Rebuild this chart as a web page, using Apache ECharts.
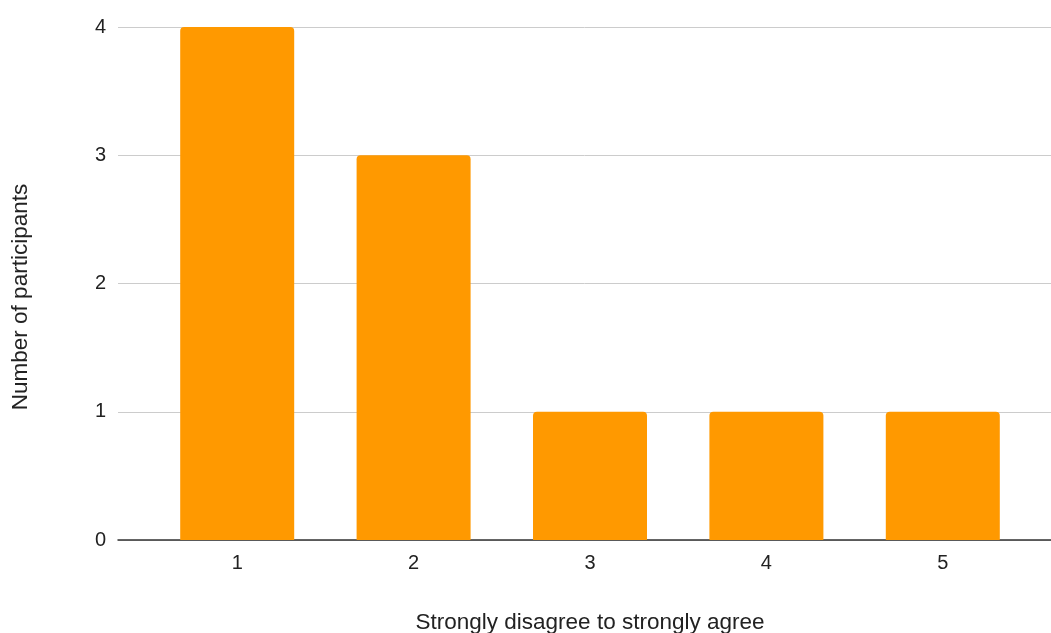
<!DOCTYPE html>
<html>
<head>
<meta charset="utf-8">
<script src="https://cdn.jsdelivr.net/npm/echarts@6/dist/echarts.min.js"></script>
<style>
  html, body { margin: 0; padding: 0; background: #fff; }
  #chart { width: 1051px; height: 633px; }
</style>
</head>
<body>
<div id="chart"></div>
<script>
// Likert responses: 1 = strongly disagree ... 5 = strongly agree
const categories = ['1', '2', '3', '4', '5'];
const participants = [4, 3, 1, 1, 1];
const yTicks = [0, 1, 2, 3, 4];

const xTitle = 'Strongly disagree to strongly agree';
const yTitle = 'Number of participants';

const FONT = '"Liberation Sans", Arial, sans-serif';
const TEXT = '#222222';

const chart = echarts.init(document.getElementById('chart'), null, { renderer: 'canvas' });

const yMin = yTicks[0];
const yMax = yTicks[yTicks.length - 1];

chart.setOption({
  animation: false,
  backgroundColor: '#ffffff',
  grid: [
    // frame: gridlines and baseline span the full width
    { left: 118, right: 0, top: 27, bottom: 93, containLabel: false, outerBoundsMode: 'none' },
    // bars and category labels
    { left: 149, right: 20, top: 27, bottom: 93, containLabel: false, outerBoundsMode: 'none' }
  ],
  xAxis: [
    {
      gridIndex: 0, type: 'category', data: categories,
      axisLine: { show: true, lineStyle: { color: '#333333', width: 1.5 } },
      axisTick: { show: false }, axisLabel: { show: false }, splitLine: { show: false }
    },
    {
      gridIndex: 1, type: 'category', data: categories,
      axisLine: { show: false }, axisTick: { show: false },
      axisLabel: { color: TEXT, fontFamily: FONT, fontSize: 20, margin: 13 },
      name: xTitle, nameLocation: 'middle', nameGap: 71,
      nameTextStyle: { color: TEXT, fontFamily: FONT, fontSize: 22.5 }
    }
  ],
  yAxis: [
    {
      gridIndex: 0, type: 'value', min: yMin, max: yMax, interval: 1,
      axisLine: { show: false }, axisTick: { show: false },
      axisLabel: { color: TEXT, fontFamily: FONT, fontSize: 20, margin: 12 },
      splitLine: { show: true, lineStyle: { color: '#cccccc', width: 1 } }
    },
    {
      gridIndex: 1, type: 'value', min: yMin, max: yMax, interval: 1,
      axisLine: { show: false }, axisTick: { show: false },
      axisLabel: { show: false }, splitLine: { show: false }
    }
  ],
  graphic: [
    {
      type: 'text', rotation: Math.PI / 2, x: 21, y: 297,
      style: {
        text: yTitle, fill: TEXT, font: '22.5px ' + FONT,
        textAlign: 'center', textVerticalAlign: 'middle'
      }
    }
  ],
  series: [
    {
      type: 'bar', xAxisIndex: 1, yAxisIndex: 1,
      data: participants, barWidth: 114,
      itemStyle: { color: '#ff9900', borderRadius: [4, 4, 0, 0] },
      z: 1
    }
  ]
});
</script>
</body>
</html>
